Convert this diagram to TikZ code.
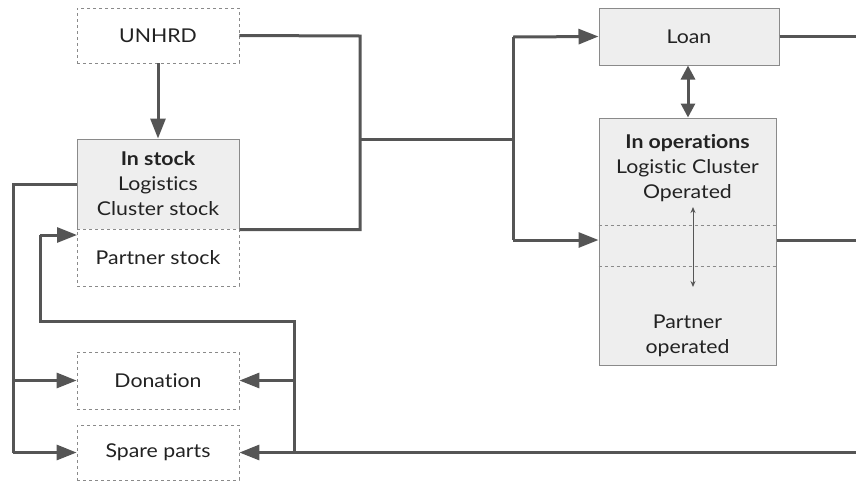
\documentclass[tikz,border=0pt]{standalone}
\usepackage{fontspec}
\setmainfont{Lato}[FakeStretch=1.12, Ligatures=NoCommon]
\usetikzlibrary{arrows.meta}
\definecolor{ln}{HTML}{555555}
\definecolor{bx}{HTML}{EEEEEE}
\definecolor{bd}{HTML}{8A8A8A}
\definecolor{tx}{HTML}{222222}
\begin{document}
\begin{tikzpicture}[x=1pt,y=-1pt,
  every node/.style={font=\fontsize{19}{25}\selectfont, text=tx, align=center, inner sep=0pt},
  dbox/.style={draw=bd, dashed, line width=0.8pt, fill=white},
  gbox/.style={draw=bd, solid, line width=1pt, fill=bx},
  conn/.style={draw=ln, line width=3pt},
  arr/.style={conn, -{Triangle[length=20pt,width=15pt]}},
  darr/.style={conn, {Triangle[length=14pt,width=14pt]}-{Triangle[length=14pt,width=14pt]}},
  thin arr/.style={draw=ln, line width=1pt, {Stealth[length=6pt,width=5pt]}-{Stealth[length=6pt,width=5pt]}}]
\useasboundingbox (0,0) rectangle (856,480);
% boxes
\node[dbox, minimum width=162pt, minimum height=55pt] (unhrd) at (158,35.5) {UNHRD};
\node[gbox, minimum width=162pt, minimum height=90pt] (instock) at (158,184) {\textbf{In stock}\\Logistics\\Cluster stock};
\node[dbox, minimum width=162pt, minimum height=57pt] (partner) at (158,257.5) {Partner stock};
\node[dbox, minimum width=162pt, minimum height=57pt] (donation) at (158,380.5) {Donation};
\node[dbox, minimum width=162pt, minimum height=55pt] (spare) at (158,452.5) {Spare parts};
\node[gbox, minimum width=180pt, minimum height=57pt] (loan) at (689,36.5) {Loan};
\node[gbox, minimum width=177pt, minimum height=247pt] (inops) at (687.5,241.5) {};
\node (inopsA) at (687.5,168) {\textbf{In operations}\\Logistic Cluster\\Operated};
\node (inopsB) at (687.5,336) {Partner\\operated};
\draw[bd, dashed, line width=0.8pt] (inops.west |- 0,225) -- (inops.east |- 0,225);
\draw[bd, dashed, line width=0.8pt] (inops.west |- 0,266) -- (inops.east |- 0,266);
% junction coordinates
\coordinate (ja) at (360,36);
\coordinate (jb) at (360,139);
\coordinate (jc) at (513,139);
\coordinate (jd) at (513,37);
\coordinate (je) at (513,240);
\coordinate (jl) at (13,184);
\coordinate (jl2) at (13,380.5);
\coordinate (jl3) at (13,452.5);
\coordinate (pa) at (40,321);
\coordinate (pb) at (40,235);
\coordinate (pt) at (77,235);
\coordinate (pr) at (294,321);
\coordinate (pr2) at (294,380.5);
\coordinate (pr3) at (294,452.5);
\coordinate (e1) at (856,36.5);
\coordinate (e2) at (856,240);
\coordinate (e3) at (856,452.5);
\coordinate (ta) at (688,111);
\coordinate (tb) at (693,207);
\coordinate (tc) at (693,287);
% connectors
\draw[conn] (unhrd.east) -- (ja) -- (instock.south east -| ja) -- (instock.south east);
\draw[conn] (jb) -- (jc);
\draw[conn] (jd) -- (je);
\draw[arr] (jd) -- (loan.west);
\draw[arr] (je) -- (inops.west |- je);
\draw[arr] (unhrd.south) -- (instock.north);
\draw[conn] (instock.west) -- (jl) -- (jl3);
\draw[arr] (jl2) -- (donation.west);
\draw[arr] (jl3) -- (spare.west);
\draw[conn] (pr3) -- (pr) -- (pa) -- (pb);
\draw[arr] (pb) -- (pt);
\draw[arr] (pr2) -- (donation.east);
\draw[arr] (e3) -- (spare.east);
\draw[conn] (loan.east) -- (e1);
\draw[conn] (inops.east |- e2) -- (e2);
\draw[darr] (loan.south -| ta) -- (inops.north -| ta);
\draw[thin arr] (tb) -- (tc);
\end{tikzpicture}
\end{document}
